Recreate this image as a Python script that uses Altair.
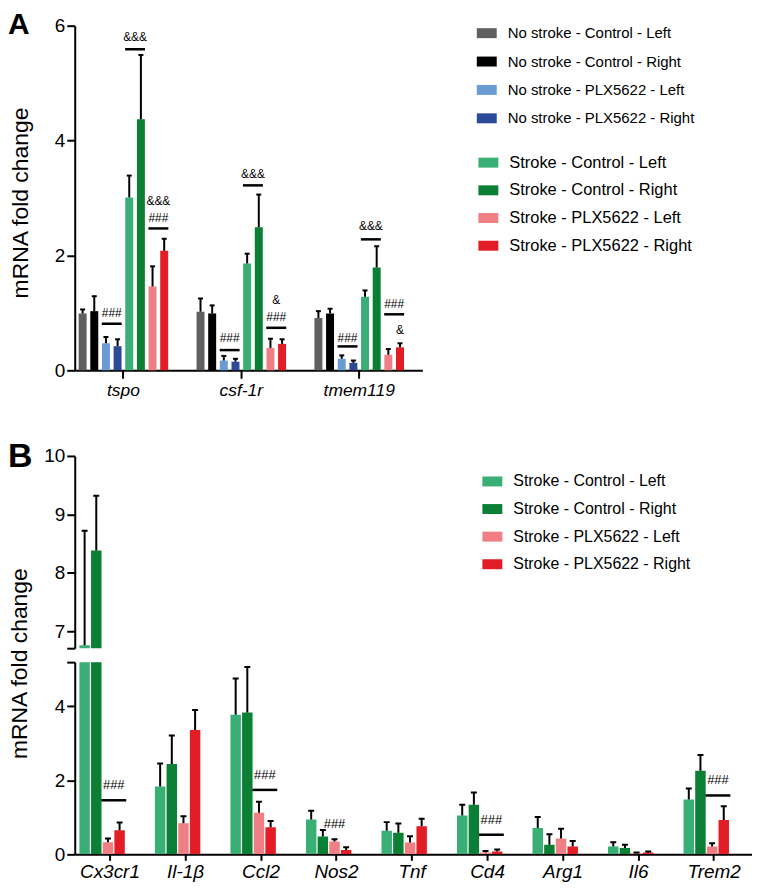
import altair as alt
import pandas as pd

FONT = "Liberation Sans"

# ---------------- Panel A data ----------------
genes_a = ["tspo", "csf-1r", "tmem119"]
groups_ns = ["No stroke - Control - Left", "No stroke - Control - Right",
             "No stroke - PLX5622 - Left", "No stroke - PLX5622 - Right"]
groups_st = ["Stroke - Control - Left", "Stroke - Control - Right",
             "Stroke - PLX5622 - Left", "Stroke - PLX5622 - Right"]
colors_ns = ["#606060", "#000000", "#6a9bd3", "#2d4a99"]
colors_st = ["#3aaf75", "#0b7f33", "#ef7f85", "#e31d25"]

mean_tspo = [0.99, 1.03, 0.47, 0.42, 3.01, 4.37, 1.46, 2.08]
top_tspo = [1.06, 1.29, 0.58, 0.54, 3.39, 5.49, 1.81, 2.29]
mean_csf = [1.02, 0.99, 0.17, 0.15, 1.86, 2.49, 0.39, 0.46]
top_csf = [1.25, 1.13, 0.25, 0.20, 2.03, 3.06, 0.55, 0.54]
mean_tmem = [0.91, 0.99, 0.20, 0.13, 1.28, 1.79, 0.27, 0.40]
top_tmem = [1.03, 1.07, 0.26, 0.17, 1.39, 2.16, 0.37, 0.47]

ann_a_gene = ["tspo", "tspo", "tspo", "tspo", "csf-1r", "csf-1r", "csf-1r", "csf-1r",
              "tmem119", "tmem119", "tmem119", "tmem119"]
ann_a_slot = ["m2", "m4", "m6", "m6", "m2", "m4", "m6", "m6", "m2", "m4", "m6", "s7"]
ann_a_y = [1.0, 5.81, 2.94, 2.65, 0.567, 3.42, 1.217, 0.936, 0.566, 2.51, 1.15, 0.70]
ann_a_text = ["###", "&&&", "&&&", "###", "###", "&&&", "&", "###", "###", "&&&", "###", "&"]
line_a_gene = ["tspo", "tspo", "tspo", "csf-1r", "csf-1r", "csf-1r", "tmem119", "tmem119", "tmem119"]
line_a_slot = ["m2", "m4", "m6", "m2", "m4", "m6", "m2", "m4", "m6"]
line_a_y = [0.81, 5.59, 2.47, 0.352, 3.22, 0.74, 0.416, 2.28, 0.975]

# ---------------- Panel B data ----------------
genes_b = ["Cx3cr1", "Il-1β", "Ccl2", "Nos2", "Tnf", "Cd4", "Arg1", "Il6", "Trem2"]
mean_ctrl_left = [6.76, 1.83, 3.77, 0.94, 0.64, 1.05, 0.71, 0.21, 1.48]
mean_ctrl_right = [8.38, 2.44, 3.83, 0.48, 0.58, 1.34, 0.26, 0.17, 2.26]
mean_plx_left = [0.33, 0.84, 1.12, 0.35, 0.32, 0.05, 0.43, 0.03, 0.21]
mean_plx_right = [0.65, 3.36, 0.73, 0.12, 0.76, 0.08, 0.21, 0.05, 0.93]
top_ctrl_left = [8.72, 2.45, 4.75, 1.18, 0.87, 1.34, 1.01, 0.33, 1.78]
top_ctrl_right = [9.32, 3.21, 5.06, 0.66, 0.83, 1.67, 0.54, 0.26, 2.68]
top_plx_left = [0.43, 1.03, 1.42, 0.41, 0.49, 0.09, 0.69, 0.05, 0.30]
top_plx_right = [0.86, 3.90, 0.90, 0.19, 0.96, 0.13, 0.36, 0.08, 1.30]

ann_b_gene = ["Cx3cr1", "Ccl2", "Nos2", "Cd4", "Trem2"]
ann_b_slot = ["m2", "m2", "s2", "m2", "m2"]
ann_b_y = [1.87, 2.14, 0.81, 0.93, 2.0]
ann_b_text = ["###", "###", "###", "###", "###"]
line_b_gene = ["Cx3cr1", "Ccl2", "Cd4", "Trem2"]
line_b_slot = ["m2", "m2", "m2", "m2"]
line_b_y = [1.46, 1.74, 0.53, 1.59]

break_low = 5.19
break_high = 6.71

# ---------------- tables ----------------
slots_a = []
for i in range(8):
    slots_a.append(f"s{i}")
    if i < 7:
        slots_a.append(f"m{i}")
slots_b = []
for i in range(4):
    slots_b.append(f"s{i}")
    if i < 3:
        slots_b.append(f"m{i}")

rows = []
for gene, means, tops in zip(genes_a, [mean_tspo, mean_csf, mean_tmem], [top_tspo, top_csf, top_tmem]):
    for i, (g, m, t) in enumerate(zip(groups_ns + groups_st, means, tops)):
        rows.append(dict(gene=gene, group=g, slot=f"s{i}", mean=m, top=t, stroke=i >= 4))
dfa = pd.DataFrame(rows)
dfa_txt = pd.DataFrame(dict(gene=ann_a_gene, slot=ann_a_slot, y=ann_a_y, text=ann_a_text))
dfa_lin = pd.DataFrame(dict(gene=line_a_gene, slot=line_a_slot, y=line_a_y))

rows = []
means_b = [mean_ctrl_left, mean_ctrl_right, mean_plx_left, mean_plx_right]
tops_b = [top_ctrl_left, top_ctrl_right, top_plx_left, top_plx_right]
for j, gene in enumerate(genes_b):
    for i, g in enumerate(groups_st):
        rows.append(dict(gene=gene, group=g, slot=f"s{i}", mean=means_b[i][j], top=tops_b[i][j]))
dfb = pd.DataFrame(rows)
dfb_txt = pd.DataFrame(dict(gene=ann_b_gene, slot=ann_b_slot, y=ann_b_y, text=ann_b_text))
dfb_lin = pd.DataFrame(dict(gene=line_b_gene, slot=line_b_slot, y=line_b_y))


def legend(x, y, size, pad):
    return alt.Legend(orient="none", title=None, direction="vertical", legendX=x, legendY=y,
                      symbolType="M-1,-0.5H1V0.5H-1Z", symbolSize=400, symbolStrokeWidth=0,
                      symbolOpacity=1, labelFontSize=size, labelFont=FONT, labelColor="black",
                      labelOffset=11, rowPadding=pad, labelLimit=400)

# ---------------- Panel A ----------------
def xa():
    return alt.X("gene:N", sort=genes_a,
                 scale=alt.Scale(domain=genes_a, paddingInner=0.2586, paddingOuter=0.1035, align=0.204),
                 axis=alt.Axis(title=None, labelAngle=0, labelFontStyle="italic", labelFontSize=17.5,
                               tickSize=8, labelPadding=3))

xoa = alt.XOffset("slot:N", scale=alt.Scale(domain=slots_a, paddingInner=0, paddingOuter=0))

def ya(field):
    return alt.Y(f"{field}:Q", scale=alt.Scale(domain=[0, 6], nice=False),
                 axis=alt.Axis(values=[0, 2, 4, 6], format=".0f", title="mRNA fold change", titleFontSize=23,
                               titleFontWeight="normal", titleX=-47, titleY=177.5, titleAngle=270,
                               titleBaseline="alphabetic", titleAlign="center",
                               labelFontSize=19, tickSize=8, labelPadding=2))

bars_ns = alt.Chart(dfa[~dfa["stroke"]]).mark_bar(width=8).encode(
    x=xa(), xOffset=xoa, y=ya("mean"),
    color=alt.Color("group:N", scale=alt.Scale(domain=groups_ns, range=colors_ns),
                    legend=legend(403.7, -2.5, 15, 10.5)))
bars_st = alt.Chart(dfa[dfa["stroke"]]).mark_bar(width=8).encode(
    x=xa(), xOffset=xoa, y=ya("mean"),
    color=alt.Color("group:N", scale=alt.Scale(domain=groups_st, range=colors_st),
                    legend=legend(405.3, 127.5, 16.5, 8.8)))
err_a = alt.Chart(dfa).mark_rule(color="black", strokeWidth=2).encode(
    x=xa(), xOffset=xoa, y=ya("mean"), y2="top:Q")
cap_a = alt.Chart(dfa).mark_tick(color="black", thickness=2, size=5, opacity=1).encode(
    x=xa(), xOffset=xoa, y=ya("top"))
lin_a = alt.Chart(dfa_lin).mark_tick(color="black", thickness=2.5, size=20, opacity=1).encode(
    x=xa(), xOffset=xoa, y=ya("y"))
txt_a = alt.Chart(dfa_txt).mark_text(fontSize=12, font=FONT, baseline="middle", color="black").encode(
    x=xa(), xOffset=xoa, y=ya("y"), text="text:N")

panel_a = alt.layer(bars_ns, bars_st, err_a, cap_a, lin_a, txt_a).resolve_scale(
    color="independent").properties(
    width=349, height=346,
    title=alt.TitleParams("A", anchor="start", orient="top", frame="group", fontSize=30,
                          fontWeight="bold", font=FONT, color="black", dx=-67, dy=47,
                          offset=0, baseline="alphabetic"))

# ---------------- Panel B ----------------
xscale_b = alt.Scale(domain=genes_b, paddingInner=0.252, paddingOuter=0.110, align=0.42)

def xb(show):
    if show:
        return alt.X("gene:N", sort=genes_b, scale=xscale_b,
                     axis=alt.Axis(title=None, labelAngle=0, labelFontStyle="italic", labelFontSize=19,
                                   tickSize=6, labelPadding=2))
    return alt.X("gene:N", sort=genes_b, scale=xscale_b, axis=None)

xob = alt.XOffset("slot:N", scale=alt.Scale(domain=slots_b, paddingInner=0, paddingOuter=0))

def yb_up(field):
    return alt.Y(f"{field}:Q", scale=alt.Scale(domain=[break_high, 10], nice=False, zero=False),
                 axis=alt.Axis(values=[break_high, 7, 8, 9, 10], format=".0f",
                               labelExpr="datum.value < 6.9 ? '' : datum.label",
                               title=None, labelFontSize=19, tickSize=8, labelPadding=2))

def yb_lo(field):
    return alt.Y(f"{field}:Q", scale=alt.Scale(domain=[0, break_low], nice=False),
                 axis=alt.Axis(values=[0, 2, 4, break_low], format=".0f",
                               labelExpr="datum.value > 5 ? '' : datum.label",
                               title="mRNA fold change", titleFontSize=23, titleFontWeight="normal",
                               titleX=-48, titleY=1, titleAngle=270, titleBaseline="alphabetic",
                               titleAlign="center", labelFontSize=19, tickSize=8, labelPadding=2))

color_b_up = alt.Color("group:N", scale=alt.Scale(domain=groups_st, range=colors_st),
                       legend=legend(409.3, 15.6, 16, 9.7))
color_b_lo = alt.Color("group:N", scale=alt.Scale(domain=groups_st, range=colors_st), legend=None)

up_bars = alt.Chart(dfb).mark_bar(width=10.5, clip=True).encode(
    x=xb(False), xOffset=xob, y=yb_up("mean"), color=color_b_up)
up_err = alt.Chart(dfb).mark_rule(color="black", strokeWidth=2, clip=True).encode(
    x=xb(False), xOffset=xob, y=yb_up("mean"), y2="top:Q")
up_cap = alt.Chart(dfb).mark_tick(color="black", thickness=2, size=6, opacity=1, clip=True).encode(
    x=xb(False), xOffset=xob, y=yb_up("top"))
upper = alt.layer(up_bars, up_err, up_cap).properties(
    width=680, height=193,
    title=alt.TitleParams("B", anchor="start", orient="top", frame="group", fontSize=34,
                          fontWeight="bold", font=FONT, color="black", dx=-67, dy=54.5,
                          offset=0, baseline="alphabetic"))

lo_bars = alt.Chart(dfb).mark_bar(width=10.5, clip=True).encode(
    x=xb(True), xOffset=xob, y=yb_lo("mean"), color=color_b_lo)
lo_err = alt.Chart(dfb).mark_rule(color="black", strokeWidth=2, clip=True).encode(
    x=xb(True), xOffset=xob, y=yb_lo("mean"), y2="top:Q")
lo_cap = alt.Chart(dfb).mark_tick(color="black", thickness=2, size=6, opacity=1, clip=True).encode(
    x=xb(True), xOffset=xob, y=yb_lo("top"))
lo_lin = alt.Chart(dfb_lin).mark_tick(color="black", thickness=2.5, size=25, opacity=1).encode(
    x=xb(True), xOffset=xob, y=yb_lo("y"))
lo_txt = alt.Chart(dfb_txt).mark_text(fontSize=13, font=FONT, baseline="middle", color="black").encode(
    x=xb(True), xOffset=xob, y=yb_lo("y"), text="text:N")
lower = alt.layer(lo_bars, lo_err, lo_cap, lo_lin, lo_txt).properties(width=680, height=193)

spacer = alt.Chart(pd.DataFrame({"v": [0]})).mark_point(opacity=0).encode(
    x=alt.X("v:Q", axis=None), y=alt.Y("v:Q", axis=None)).properties(width=680, height=58)

chart = alt.vconcat(panel_a, spacer, upper, lower, spacing=14, bounds="flush").resolve_scale(
    color="independent").properties(
    padding={"left": 0, "top": 0, "right": 0, "bottom": 0}
).configure_view(stroke=None).configure_axis(
    grid=False, domainColor="black", domainWidth=2, tickColor="black", tickWidth=2,
    labelColor="black", titleColor="black", labelFont=FONT, titleFont=FONT)

chart.save("out.html", embed_options={"renderer": "svg", "actions": False})
